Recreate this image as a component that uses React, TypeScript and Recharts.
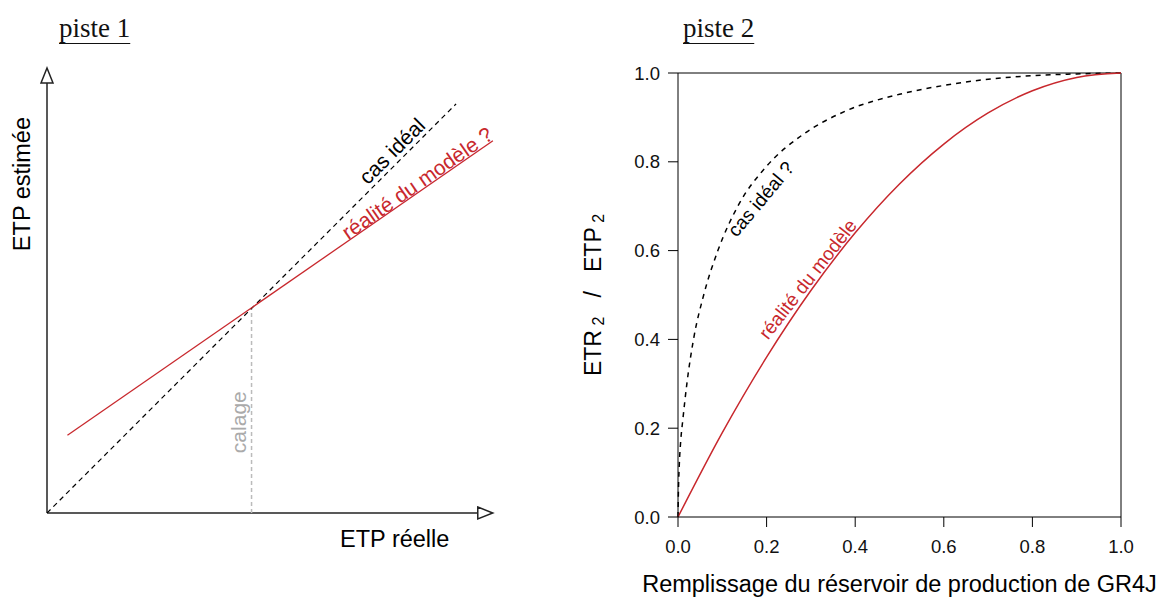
import React from "react";
import {
  LineChart,
  Line,
  XAxis,
  YAxis,
  ReferenceLine,
  ReferenceDot,
} from "recharts";

// piste 1 : schéma ETP estimée vs ETP réelle
const idealLine1 = [
  { x: 0, y: 0 },
  { x: 1, y: 1 },
];
const modelLine1 = [
  { x: 0.05, y: 0.19 },
  { x: 1.09, y: 0.91 },
];
const calageX = 0.5;
const calageY = 0.5;

// piste 2 : ETR/ETP selon remplissage du réservoir
const idealCurve2 = [
  { x: 0, y: 0 },
  { x: 0.001, y: 0.06 },
  { x: 0.003, y: 0.12 },
  { x: 0.006, y: 0.17 },
  { x: 0.011, y: 0.22 },
  { x: 0.02, y: 0.3 },
  { x: 0.035, y: 0.4 },
  { x: 0.058, y: 0.5 },
  { x: 0.09, y: 0.6 },
  { x: 0.135, y: 0.7 },
  { x: 0.2, y: 0.79 },
  { x: 0.28, y: 0.86 },
  { x: 0.38, y: 0.915 },
  { x: 0.5, y: 0.952 },
  { x: 0.6, y: 0.972 },
  { x: 0.7, y: 0.986 },
  { x: 0.8, y: 0.994 },
  { x: 0.9, y: 0.998 },
  { x: 1, y: 1 },
];
const modelCurve2 = [
  { x: 0, y: 0 },
  { x: 0.1, y: 0.19 },
  { x: 0.2, y: 0.36 },
  { x: 0.3, y: 0.51 },
  { x: 0.4, y: 0.64 },
  { x: 0.5, y: 0.75 },
  { x: 0.6, y: 0.84 },
  { x: 0.7, y: 0.91 },
  { x: 0.8, y: 0.96 },
  { x: 0.9, y: 0.99 },
  { x: 1, y: 1 },
];
const ticks2 = [0, 0.2, 0.4, 0.6, 0.8, 1];

const RED = "#c8282d";
const FONT = "'Liberation Sans', Arial, Helvetica, sans-serif";
const NB = "\u00a0";

// texte positionné par les échelles du graphique
const textAt =
  (txt: React.ReactNode, opts: { size?: number; color?: string; angle?: number; anchor?: string; baseline?: string } = {}) =>
  (p: any) => {
    const { size = 20, color = "#000", angle = 0, anchor = "middle", baseline = "central" } = opts;
    return (
      <text
        x={p.cx}
        y={p.cy}
        fontSize={size}
        fill={color}
        fontFamily={FONT}
        textAnchor={anchor}
        dominantBaseline={baseline}
        transform={`rotate(${angle} ${p.cx} ${p.cy})`}
      >
        {txt}
      </text>
    );
  };

const arrowRight = (p: any) => (
  <path
    d={`M${p.cx},${p.cy - 6} L${p.cx + 15},${p.cy} L${p.cx},${p.cy + 6} Z`}
    fill="#fff"
    stroke="#222"
    strokeWidth={1.5}
    strokeLinejoin="miter"
  />
);
const arrowUp = (p: any) => (
  <path
    d={`M${p.cx - 6},${p.cy} L${p.cx},${p.cy - 15} L${p.cx + 6},${p.cy} Z`}
    fill="#fff"
    stroke="#222"
    strokeWidth={1.5}
  />
);

const titleStyle = (left: number): React.CSSProperties => ({
  position: "absolute",
  left,
  top: 13,
  lineHeight: "30px",
  fontFamily: "'Liberation Serif', 'DejaVu Serif', serif",
  fontSize: 27,
  textDecoration: "underline",
  textUnderlineOffset: 6,
  textDecorationThickness: 1,
  color: "#111",
});

function Piste1() {
  return (
    <LineChart
      width={560}
      height={599}
      margin={{ top: 63, right: 63, bottom: 86, left: 47 }}
    >
      <XAxis type="number" dataKey="x" domain={[0, 1.1]} hide allowDataOverflow />
      <YAxis type="number" dataKey="y" domain={[0, 1.1]} hide allowDataOverflow />
      <ReferenceLine
        segment={[{ x: 0, y: 0 }, { x: 1.053, y: 0 }]}
        stroke="#222"
        strokeWidth={1.5}
        ifOverflow="visible"
      />
      <ReferenceLine
        segment={[{ x: 0, y: 0 }, { x: 0, y: 1.051 }]}
        stroke="#222"
        strokeWidth={1.5}
        ifOverflow="visible"
      />
      <ReferenceLine
        segment={[{ x: calageX, y: 0 }, { x: calageX, y: calageY }]}
        stroke="#bbb"
        strokeWidth={1.5}
        strokeDasharray="4 3"
      />
      <ReferenceDot x={1.053} y={0} ifOverflow="visible" shape={arrowRight} />
      <ReferenceDot x={0} y={1.051} ifOverflow="visible" shape={arrowUp} />
      <Line
        data={idealLine1}
        dataKey="y"
        type="linear"
        stroke="#000"
        strokeWidth={1.2}
        strokeDasharray="5 4"
        dot={false}
        isAnimationActive={false}
      />
      <Line
        data={modelLine1}
        dataKey="y"
        type="linear"
        stroke={RED}
        strokeWidth={1.3}
        dot={false}
        isAnimationActive={false}
      />
      <ReferenceDot x={0.843} y={0.885} ifOverflow="visible" shape={textAt("cas idéal", { angle: -45, size: 21 })} />
      <ReferenceDot
        x={0.905}
        y={0.807}
        ifOverflow="visible"
        shape={textAt("réalité du modèle ?", { angle: -35, size: 21, color: RED })}
      />
      <ReferenceDot x={0.467} y={0.222} ifOverflow="visible" shape={textAt("calage", { angle: -90, size: 21, color: "#aaa" })} />
      <ReferenceDot x={0.85} y={-0.064} ifOverflow="visible" shape={textAt("ETP réelle", { size: 23.5 })} />
      <ReferenceDot x={-0.061} y={0.804} ifOverflow="visible" shape={textAt("ETP estimée", { size: 23.5, angle: -90 })} />
    </LineChart>
  );
}

function Piste2() {
  const tickStyle = { fontSize: 18.5, fill: "#111", fontFamily: FONT };
  return (
    <LineChart
      width={606}
      height={599}
      margin={{ top: 73, right: 45, bottom: 52, left: 58 }}
    >
      <XAxis
        type="number"
        dataKey="x"
        domain={[0, 1]}
        ticks={ticks2}
        tickFormatter={(v: number) => v.toFixed(1)}
        tick={tickStyle}
        tickSize={10}
        tickMargin={13}
        height={30}
        stroke="#000"
        axisLine={{ stroke: "#000" }}
        tickLine={{ stroke: "#000" }}
      />
      <YAxis
        type="number"
        dataKey="y"
        domain={[0, 1]}
        ticks={ticks2}
        tickFormatter={(v: number) => v.toFixed(1)}
        tick={tickStyle}
        tickSize={10}
        tickMargin={8}
        width={60}
        axisLine={{ stroke: "#000" }}
        tickLine={{ stroke: "#000" }}
      />
      <ReferenceLine segment={[{ x: 0, y: 1 }, { x: 1, y: 1 }]} stroke="#000" strokeWidth={1} />
      <ReferenceLine segment={[{ x: 1, y: 0 }, { x: 1, y: 1 }]} stroke="#000" strokeWidth={1} />
      <Line
        data={idealCurve2}
        dataKey="y"
        type="monotone"
        stroke="#000"
        strokeWidth={1.5}
        strokeDasharray="5 5"
        dot={false}
        isAnimationActive={false}
      />
      <Line
        data={modelCurve2}
        dataKey="y"
        type="monotone"
        stroke={RED}
        strokeWidth={1.5}
        dot={false}
        isAnimationActive={false}
      />
      <ReferenceDot x={0.187} y={0.716} ifOverflow="visible" shape={textAt("cas idéal ?", { angle: -50, size: 19 })} />
      <ReferenceDot
        x={0.293}
        y={0.536}
        ifOverflow="visible"
        shape={textAt("réalité du modèle", { angle: -52, size: 19, color: RED })}
      />
      <ReferenceDot
        x={0.5}
        y={-0.17}
        ifOverflow="visible"
        shape={textAt("Remplissage du réservoir de production de GR4J", { size: 23.5, baseline: "alphabetic" })}
      />
      <ReferenceDot
        x={-0.192}
        y={0.5}
        ifOverflow="visible"
        shape={textAt(
          <>
            <tspan>ETR</tspan>
            <tspan dy={5} fontSize={16}>{NB + "2"}</tspan>
            <tspan dy={-5}>{NB + NB + NB + "/" + NB + NB + NB + "ETP"}</tspan>
            <tspan dy={5} fontSize={16}>{NB + "2"}</tspan>
          </>,
          { size: 23, angle: -90 }
        )}
      />
    </LineChart>
  );
}

export default function App() {
  return (
    <div style={{ position: "absolute", left: 0, top: 0, width: 1166, height: 599, background: "#fff" }}>
      <div style={titleStyle(59)}>piste 1</div>
      <div style={titleStyle(683)}>piste 2</div>
      <div style={{ position: "absolute", left: 0, top: 0 }}>
        <Piste1 />
      </div>
      <div style={{ position: "absolute", left: 560, top: 0 }}>
        <Piste2 />
      </div>
    </div>
  );
}
